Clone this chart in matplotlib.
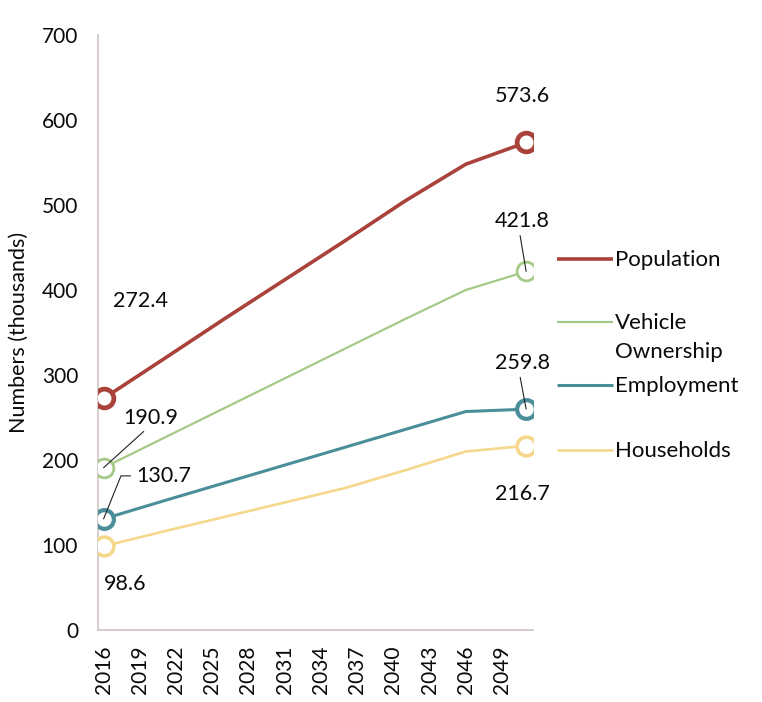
import matplotlib
matplotlib.use("Agg")
import matplotlib.pyplot as plt

plt.rcParams['font.family'] = ['Lato', 'DejaVu Sans']

# Projection years (5-year steps) and series values, in thousands
years = [2016, 2021, 2026, 2031, 2036, 2041, 2046, 2051]
population = [272.4, 319, 366, 412, 458, 505, 548, 573.6]
vehicle_ownership = [190.9, 226, 261, 296, 331, 366, 400, 421.8]
employment = [130.7, 152, 173, 194, 215, 236, 257, 259.8]
households = [98.6, 116, 133, 150, 167, 188, 210, 216.7]

series_names = ["Population", "Vehicle\nOwnership", "Employment", "Households"]
series_values = [population, vehicle_ownership, employment, households]

tick_years = list(range(2016, 2050, 3))
y_ticks = [0, 100, 200, 300, 400, 500, 600, 700]

colors = ["#A8423A", "#A5C986", "#4A8E9A", "#F5D88C"]
line_widths = [2.6, 1.6, 2.2, 1.9]
marker_edge = [3.4, 2.0, 3.0, 2.6]

# label offsets (pixels) for the first and last points: (dx, dy, leader style)
first_offsets = [(37, 97, None), (47, 50, "straight"), (60, 43, "elbow"), (22, -38, None)]
last_offsets = [(-4, 46, None), (-4, 50, "straight"), (-4, 46, "straight"), (-4, -48, None)]
legend_y = [0.6235, 0.5176, 0.4118, 0.3025]

text_color = '#0A0A0A'

fig = plt.figure(figsize=(7.62, 7.02), dpi=100)
ax = fig.add_axes([0.128, 0.1026, 0.572, 0.8475])

for name, vals, c, lw, mew in zip(series_names, series_values, colors, line_widths, marker_edge):
    ax.plot(years, vals, color=c, lw=lw, solid_capstyle='round',
            solid_joinstyle='round', zorder=2)
    ax.plot([years[0], years[-1]], [vals[0], vals[-1]], linestyle='none',
            marker='o', markersize=13.5, markerfacecolor='white',
            markeredgecolor=c, markeredgewidth=mew, zorder=3)


def label_point(x, y, off):
    dx, dy, leader = off
    kw = dict(xy=(x, y), xytext=(dx, dy), textcoords='offset pixels',
              ha='center', va='center', fontsize=15.5, color=text_color, zorder=5)
    if leader == "straight":
        kw['arrowprops'] = dict(arrowstyle='-', color='#222222', lw=0.8,
                                shrinkA=1, shrinkB=0, relpos=(0.45, 0.0))
    elif leader == "elbow":
        kw['arrowprops'] = dict(arrowstyle='-', color='#222222', lw=0.8,
                                shrinkA=2, shrinkB=0, relpos=(0.0, 0.5),
                                connectionstyle="angle,angleA=0,angleB=68,rad=0")
    ax.annotate(f"{y:.1f}", **kw)


for vals, f_off, l_off in zip(series_values, first_offsets, last_offsets):
    label_point(years[0], vals[0], f_off)
    label_point(years[-1], vals[-1], l_off)

# legend entries to the right of the plot; first text line sits on the key line
for name, c, lw, ly in zip(series_names, colors, line_widths, legend_y):
    ax.plot([1.055, 1.182], [ly, ly], transform=ax.transAxes, color=c,
            lw=lw, clip_on=False, solid_capstyle='butt')
    ax.annotate(name, xy=(1.188, ly), xycoords='axes fraction',
                xytext=(0, 9), textcoords='offset pixels',
                ha='left', va='top', fontsize=16, color=text_color,
                linespacing=1.55)

ax.set_xlim(2015.5, 2051.6)
ax.set_ylim(0, 700)
ax.set_xticks(tick_years)
ax.set_xticklabels([str(y) for y in tick_years], rotation=90, fontsize=15,
                   color=text_color)
ax.set_yticks(y_ticks)
ax.set_yticklabels([str(v) for v in y_ticks], fontsize=15, color=text_color)
ax.tick_params(axis='y', length=0, pad=14)
ax.tick_params(axis='x', length=0, pad=11)
ax.set_ylabel("Numbers (thousands)", fontsize=15.5, labelpad=9, color=text_color)

for side in ['top', 'right']:
    ax.spines[side].set_visible(False)
for side in ['left', 'bottom']:
    ax.spines[side].set_color('#D3C8C8')
    ax.spines[side].set_linewidth(1.3)

fig.savefig("out.png", dpi=100, facecolor='white')
